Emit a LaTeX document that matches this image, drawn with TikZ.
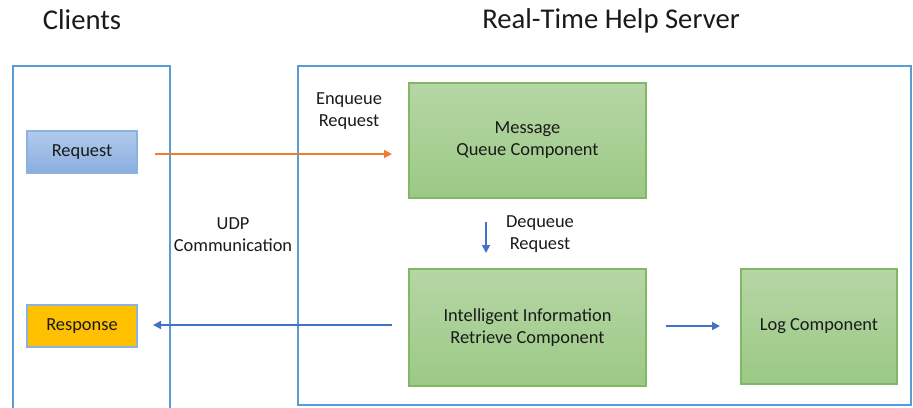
\documentclass[tikz,border=0pt]{standalone}
\usepackage{fontspec}
\setmainfont{Carlito}
\usetikzlibrary{arrows.meta}
\definecolor{frameblue}{HTML}{5B9BD5}
\definecolor{arrowblue}{HTML}{4472C4}
\definecolor{arroworange}{HTML}{ED7D31}
\definecolor{greentop}{HTML}{B6D6A5}
\definecolor{greenbot}{HTML}{9BC985}
\definecolor{greenedge}{HTML}{82B765}
\definecolor{bluetop}{HTML}{B0CAEC}
\definecolor{bluebot}{HTML}{8BAEDF}
\definecolor{boxedge}{HTML}{8CB2E0}
\definecolor{amber}{HTML}{FFC000}
\definecolor{txt}{HTML}{1A1A1A}
\tikzset{
  group/.style={draw=frameblue, line width=1.6pt},
  comp/.style={draw=greenedge, line width=0.8pt, top color=greentop, bottom color=greenbot,
    align=center, text=txt, font=\fontsize{13.8}{16.5}\selectfont},
  client/.style={draw=boxedge, line width=0.8pt, align=center, text=txt,
    font=\fontsize{13.8}{16.5}\selectfont},
  label/.style={align=center, text=txt, font=\fontsize{13.8}{16.5}\selectfont},
  title/.style={text=txt, font=\fontsize{21.5}{24}\selectfont},
  flow/.style={line width=1.2pt, -{Triangle[length=6pt,width=6pt]}},
}
\begin{document}
\begin{tikzpicture}[x=0.75pt,y=-0.75pt]
\useasboundingbox (0,0) rectangle (913,407);

% titles
\node[title] (tclients) at (82,20) {Clients};
\node[title] (tserver) at (611,21) {Real-Time Help Server};

% outer group frames
\draw[group] (13,66) rectangle (170,412);
\draw[group] (298,66) rectangle (911,405);

% client boxes
\node[client, top color=bluetop, bottom color=bluebot, minimum width=110*0.75pt, minimum height=42*0.75pt]
  (request) at (82,152) {Request};
\node[client, fill=amber, minimum width=110*0.75pt, minimum height=42*0.75pt]
  (response) at (82,326) {Response};

% server components
\node[comp, minimum width=237*0.75pt, minimum height=115*0.75pt] (mq) at (527.5,140.5) {Message\\Queue Component};
\node[comp, minimum width=237*0.75pt, minimum height=117*0.75pt] (iir) at (527.5,327.5) {Intelligent Information\\Retrieve Component};
\node[comp, minimum width=156*0.75pt, minimum height=115*0.75pt] (log) at (819,326.5) {Log Component};

% labels
\node[label] (enq) at (349,111) {Enqueue\\Request};
\node[label] (deq) at (540,234) {Dequeue\\Request};
\node[label] (udp) at (233,235) {UDP\\Communication};

% connectors
\coordinate (reqout) at (155,154);
\coordinate (mqin) at (392,154);
\coordinate (iirout) at (392,325);
\coordinate (respin) at (153,325);
\coordinate (mqout) at (486,222);
\coordinate (iirin) at (486,253);
\coordinate (logfrom) at (666,326);
\coordinate (logto) at (720,326);

\draw[flow, arroworange] (reqout) -- (mqin);
\draw[flow, arrowblue] (iirout) -- (respin);
\draw[flow, arrowblue] (mqout) -- (iirin);
\draw[flow, arrowblue] (logfrom) -- (logto);
\end{tikzpicture}
\end{document}
